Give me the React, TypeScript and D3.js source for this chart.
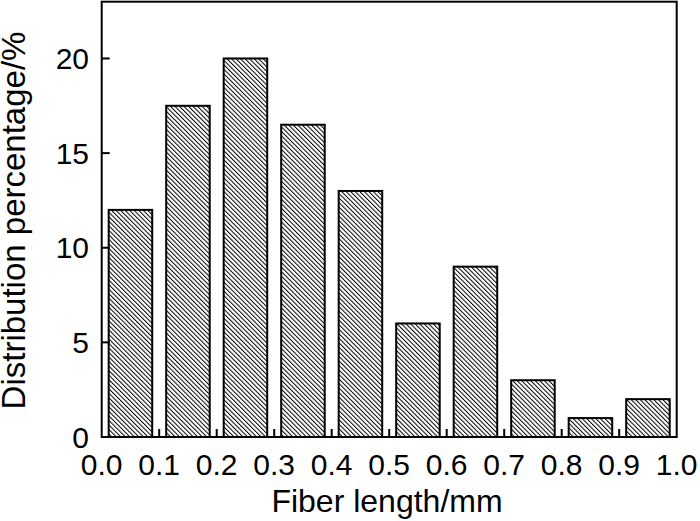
import React from "react";
import * as d3 from "d3";

const binStarts = [0.0, 0.1, 0.2, 0.3, 0.4, 0.5, 0.6, 0.7, 0.8, 0.9];
const percentages = [12, 17.5, 20, 16.5, 13, 6, 9, 3, 1, 2];
const xTicks = [0.0, 0.1, 0.2, 0.3, 0.4, 0.5, 0.6, 0.7, 0.8, 0.9, 1.0];
const yTicks = [0, 5, 10, 15, 20];
const xTitle = "Fiber length/mm";
const yTitle = "Distribution percentage/%";

const W = 700;
const H = 521;
const m = { left: 101.7, right: 676.7, top: 1.7, bottom: 437 };
const FONT = "'Liberation Sans', Arial, sans-serif";

export default function App() {
  const x = d3.scaleLinear().domain([0, 1]).range([m.left, m.right]);
  const y = d3.scaleLinear().domain([0, 23]).range([m.bottom, m.top]);
  const binW = 0.1;
  const barFrac = 0.757;

  return (
    <svg
      width={W}
      height={H}
      style={{ position: "absolute", left: 0, top: 0, background: "#fff" }}
      fontFamily={FONT}
    >
      <defs>
        <pattern
          id="hatch"
          patternUnits="userSpaceOnUse"
          width={3.2}
          height={10}
          patternTransform="rotate(-45)"
        >
          <line x1={0.5} y1={0} x2={0.5} y2={10} stroke="#000" strokeWidth={1} />
        </pattern>
      </defs>
      <rect x={0} y={0} width={W} height={H} fill="#fff" />
      {binStarts.map((b, i) => {
        const c = b + binW / 2;
        const x0 = x(c - (binW * barFrac) / 2);
        const x1 = x(c + (binW * barFrac) / 2);
        const yt = y(percentages[i]);
        return (
          <rect
            key={i}
            x={x0}
            y={yt}
            width={x1 - x0}
            height={m.bottom - yt}
            fill="url(#hatch)"
            stroke="#000"
            strokeWidth={2}
          />
        );
      })}
      <rect
        x={m.left}
        y={m.top}
        width={m.right - m.left}
        height={m.bottom - m.top}
        fill="none"
        stroke="#000"
        strokeWidth={2}
      />
      {xTicks.map((t, i) => (
        <g key={"xt" + i}>
          {i > 0 && i < xTicks.length - 1 && (
            <line x1={x(t)} x2={x(t)} y1={m.bottom} y2={m.bottom - 8} stroke="#000" strokeWidth={2} />
          )}
          <text x={x(t)} y={475} textAnchor="middle" fontSize={30} fill="#000">
            {d3.format(".1f")(t)}
          </text>
        </g>
      ))}
      {yTicks.map((t, i) => (
        <g key={"yt" + i}>
          {t > 0 && (
            <line x1={m.left} x2={m.left + 8} y1={y(t)} y2={y(t)} stroke="#000" strokeWidth={2} />
          )}
          <text x={89} y={y(t) + 10.5} textAnchor="end" fontSize={30} fill="#000">
            {t}
          </text>
        </g>
      ))}
      <text x={387} y={511.5} textAnchor="middle" fontSize={32} fill="#000">
        {xTitle}
      </text>
      <text
        transform={`translate(25, 220.5) rotate(-90)`}
        textAnchor="middle"
        fontSize={33}
        fill="#000"
      >
        {yTitle}
      </text>
    </svg>
  );
}
